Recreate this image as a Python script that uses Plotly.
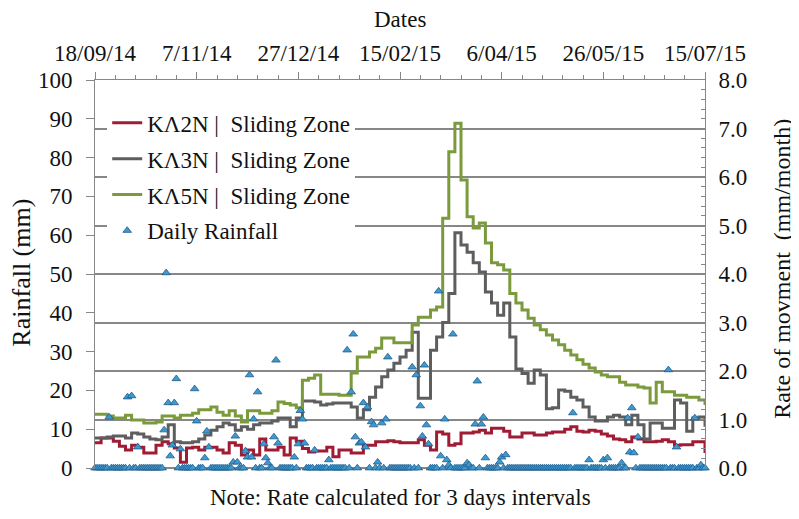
import pandas as pd
import plotly.graph_objects as go

# rate of movement (mm/month), one value per 3-day step, 18/09/14 -> 15/07/15
step_dates = pd.date_range("2014-09-18", "2015-07-15", freq="3D")

ka2n = [0.52, 0.62, 0.62, 0.55, 0.45, 0.37, 0.47, 0.43, 0.31, 0.31,
        0.47, 0.54, 0.50, 0.41, 0.12, 0.41, 0.43, 0.37, 0.43, 0.43,
        0.37, 0.31, 0.52, 0.47, 0.27, 0.37, 0.27, 0.60, 0.37, 0.37,
        0.43, 0.27, 0.62, 0.55, 0.40, 0.33, 0.35, 0.35, 0.43, 0.23,
        0.37, 0.37, 0.31, 0.31, 0.47, 0.47, 0.54, 0.54, 0.56, 0.54,
        0.52, 0.52, 0.52, 0.58, 0.47, 0.37, 0.74, 0.70, 0.47, 0.50,
        0.72, 0.72, 0.74, 0.78, 0.72, 0.82, 0.82, 0.76, 0.64, 0.64,
        0.72, 0.72, 0.68, 0.68, 0.72, 0.74, 0.74, 0.80, 0.85, 0.76,
        0.74, 0.78, 0.76, 0.70, 0.66, 0.60, 0.58, 0.54, 0.64, 0.60,
        0.54, 0.54, 0.55, 0.58, 0.54, 0.47, 0.48, 0.48, 0.54, 0.54,
        0.31]

ka3n = [0.62, 0.62, 0.64, 0.66, 0.66, 0.62, 0.72, 0.70, 0.64, 0.60,
        0.58, 0.64, 0.89, 0.54, 0.52, 0.52, 0.54, 0.60, 0.68, 0.78,
        0.85, 0.93, 0.89, 0.78, 0.85, 0.80, 0.89, 0.93, 0.93, 0.97,
        1.03, 1.03, 0.85, 1.03, 1.38, 1.38, 1.36, 1.30, 1.32, 1.34,
        1.34, 1.34, 1.26, 1.03, 1.20, 1.46, 1.67, 1.88, 2.02, 2.16,
        2.29, 2.43, 2.80, 1.44, 1.44, 2.43, 2.70, 3.00, 3.60, 4.85,
        4.60, 4.45, 4.23, 4.04, 3.63, 3.40, 3.15, 3.40, 2.70, 2.04,
        1.95, 1.75, 2.02, 1.92, 1.22, 1.24, 1.61, 1.58, 1.46, 1.40,
        1.26, 1.05, 0.97, 0.97, 1.05, 1.09, 1.05, 0.89, 1.09, 0.89,
        0.60, 0.93, 0.93, 0.82, 0.82, 1.40, 1.34, 0.76, 1.03, 1.05,
        0.85]

ka5n = [1.11, 1.11, 1.07, 1.03, 1.03, 1.09, 0.99, 0.99, 0.93, 0.93,
        0.95, 1.07, 1.07, 1.03, 1.09, 1.09, 1.13, 1.20, 1.20, 1.26,
        1.15, 1.09, 1.18, 1.07, 0.95, 1.18, 1.18, 1.13, 1.13, 1.18,
        1.36, 1.33, 1.30, 1.24, 1.81, 1.85, 1.92, 1.52, 1.52, 1.52,
        1.50, 1.50, 1.96, 2.29, 2.29, 2.39, 2.47, 2.68, 2.68, 2.58,
        2.58, 2.58, 2.95, 3.11, 3.11, 3.26, 3.32, 5.15, 6.52, 7.11,
        5.94, 5.18, 4.95, 5.05, 4.64, 4.23, 4.19, 4.08, 3.60, 3.40,
        3.26, 3.09, 2.95, 2.85, 2.74, 2.64, 2.54, 2.43, 2.33, 2.23,
        2.14, 2.06, 1.98, 1.92, 1.88, 1.88, 1.77, 1.71, 1.71, 1.67,
        1.65, 1.34, 1.77, 1.57, 1.57, 1.50, 1.50, 1.46, 1.46, 1.40,
        1.30]

# daily rainfall (mm): days since 18/09/14 with rain, all other days read as 0
rain_day = [7, 16, 18, 21, 34, 35, 36, 37, 38, 39, 40, 42, 49, 50, 54, 55, 56,
            68, 69, 70, 74, 75, 76, 77, 78, 80, 83, 84, 85, 88, 89, 90, 98,
            100, 101, 102, 103, 108, 115, 124, 126, 127, 128, 130, 131, 132,
            133, 134, 136, 137, 139, 141, 143, 144, 156, 158, 160, 161, 162,
            163, 164, 169, 170, 172, 173, 174, 176, 183, 184, 187, 188, 190,
            191, 192, 199, 200, 202, 235, 243, 250, 252, 259, 262, 263, 264,
            265, 267, 282, 286, 295, 298]
rain_mm = [13.1, 18.3, 18.6, 5.4, 9.8, 50.3, 16.8, 3.1, 5.9, 16.8, 23.0, 4.9,
           20.4, 12.1, 2.6, 9.5, 5.4, 1.5, 8.2, 1.5, 4.4, 2.8, 24.0, 2.8, 12.6,
           19.6, 6.2, 2.6, 1.3, 8.0, 27.8, 6.4, 2.8, 6.2, 14.8, 12.6, 6.4, 4.6,
           2.1, 30.4, 19.6, 34.5, 8.0, 6.4, 6.7, 16.8, 5.4, 15.7, 11.9, 11.1,
           1.5, 11.6, 12.6, 28.6, 26.0, 24.0, 16.0, 8.2, 26.5, 11.1, 6.2, 45.6,
           3.1, 12.6, 2.1, 0.8, 34.5, 1.3, 0.8, 11.3, 22.4, 11.3, 13.1, 2.6,
           1.5, 2.8, 3.4, 14.2, 2.1, 2.1, 2.6, 1.3, 12.9, 4.1, 15.5, 3.9, 8.0,
           25.3, 5.4, 12.9, 0.8]

daily = pd.Series(0.0, index=pd.date_range("2014-09-18", "2015-07-15", freq="D"))
daily.iloc[rain_day] = rain_mm

FONT = "Liberation Serif"
GRID = "#878787"
DAY = 86400000

fig = go.Figure()
for name, vals, color in [("KΛ2N |\u00a0 Sliding Zone", ka2n, "#a01c35"),
                          ("KΛ3N |\u00a0 Sliding Zone", ka3n, "#5e5e5e"),
                          ("KΛ5N |\u00a0 Sliding Zone", ka5n, "#7b9a3c")]:
    fig.add_trace(go.Scatter(
        x=step_dates, y=vals, name=name, mode="lines", line_shape="hv",
        line=dict(color=color, width=3), yaxis="y", legendgroup=name,
    ))

fig.add_trace(go.Scatter(
    x=daily.index, y=daily.values, name="Daily Rainfall", mode="markers",
    marker=dict(symbol="triangle-up", size=7.5, color="#3d9ad1",
                line=dict(color="#1f5a8a", width=0.8)),
    yaxis="y2", cliponaxis=False, legendgroup="rain",
))


def label(text, x, y, size, angle=0):
    return dict(text=text, x=x, y=y, xref="paper", yref="paper",
                xanchor="center", yanchor="middle", textangle=angle,
                showarrow=False, font=dict(size=size))


# page body adds an 8px margin, so the figure is 8px smaller and l/t are trimmed
fig.update_layout(
    width=791, height=511,
    margin=dict(l=87, r=94, t=72, b=51),
    paper_bgcolor="white", plot_bgcolor="white",
    font=dict(family=FONT, size=23, color="#111"),
    showlegend=True,
    legend=dict(x=0.02, y=0.945, xanchor="left", yanchor="top",
                bgcolor="white", tracegroupgap=3, itemwidth=30,
                font=dict(size=23)),
    xaxis=dict(
        side="top", type="date",
        range=["2014-09-18", "2015-07-15"],
        tick0="2014-09-18", dtick=50 * DAY, tickformat="%-d/%m/%y",
        ticks="outside", ticklen=7, tickcolor=GRID, ticklabelstandoff=2,
        minor=dict(tick0="2014-09-18", dtick=10 * DAY, ticks="outside",
                   ticklen=4, tickcolor=GRID, showgrid=False),
        showline=True, linecolor=GRID, linewidth=1, showgrid=False,
    ),
    yaxis=dict(
        side="right", range=[0, 8], dtick=1, tickformat=".1f",
        ticks="inside", ticklen=5, tickcolor=GRID, ticklabelstandoff=8,
        minor=dict(dtick=0.2, ticks="inside", ticklen=4, tickcolor=GRID,
                   showgrid=False),
        showgrid=True, gridcolor=GRID, gridwidth=1.5,
        zeroline=True, zerolinecolor=GRID, zerolinewidth=1.5,
        showline=True, linecolor=GRID, linewidth=1,
    ),
    yaxis2=dict(
        overlaying="y", side="left", range=[0, 100], dtick=10,
        ticks="outside", ticklen=8, tickcolor=GRID, ticklabelstandoff=9,
        showgrid=False, zeroline=False,
        showline=True, linecolor=GRID, linewidth=1,
    ),
    annotations=[
        label("Dates", 0.5, 1.156, 23),
        label("Note: Rate calculated for 3 days intervals", 0.5, -0.075, 23),
        label("Rainfall (mm)", -0.12, 0.503, 26, -90),
        label("Rate of movment\u00a0 (mm/month)", 1.126, 0.513, 24, -90),
    ],
)

fig.write_html("out.html")
